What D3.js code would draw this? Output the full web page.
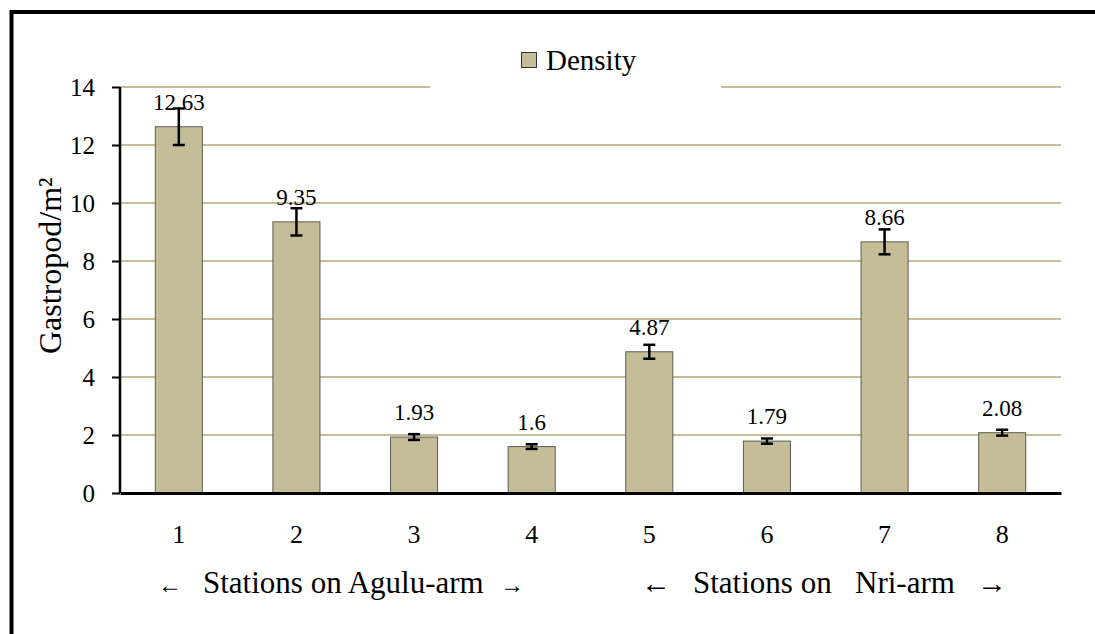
<!DOCTYPE html>
<html>
<head>
<meta charset="utf-8">
<script src="https://cdn.jsdelivr.net/npm/d3@7"></script>
<style>
  body { margin: 0; background: #fff; }
  svg { display: block; }
  svg text { font-family: "Liberation Serif", "Times New Roman", serif; fill: #000; }
</style>
</head>
<body>
<svg width="1095" height="634"></svg>
<script>
var stations = ['1', '2', '3', '4', '5', '6', '7', '8'];
var density = [12.63, 9.35, 1.93, 1.6, 4.87, 1.79, 8.66, 2.08];
var errors = [0.63, 0.47, 0.10, 0.08, 0.24, 0.09, 0.43, 0.10];
var yTicks = [0, 2, 4, 6, 8, 10, 12, 14];

var svg = d3.select('svg');
var serif = 'Liberation Serif';
var barColor = '#c4bd97';
// plot box (window.top is reserved, so no plain "top")
var plotLeft = 120, plotRight = 1061, plotTop = 87, plotBottom = 493;

// outer frame (runs off the right and bottom edge)
svg.append('rect')
  .attr('x', 11.5).attr('y', 12)
  .attr('width', 1200).attr('height', 800)
  .attr('fill', 'none').attr('stroke', '#000').attr('stroke-width', 4);

var x = d3.scaleBand().domain(stations).range([plotLeft, plotRight])
  .paddingInner(0.6).paddingOuter(0.3);
var y = d3.scaleLinear().domain([0, 14]).range([plotBottom, plotTop]);

// gridlines
svg.append('g').selectAll('line').data(yTicks.filter(function(d) { return d > 0; }))
  .enter().append('line')
  .attr('x1', plotLeft).attr('x2', plotRight)
  .attr('y1', function(d) { return y(d); })
  .attr('y2', function(d) { return y(d); })
  .attr('stroke', barColor).attr('stroke-width', 2);

// bars
svg.append('g').selectAll('rect').data(density).enter().append('rect')
  .attr('x', function(d, i) { return x(stations[i]); })
  .attr('y', function(d) { return y(d); })
  .attr('width', x.bandwidth())
  .attr('height', function(d) { return plotBottom - y(d); })
  .attr('fill', barColor)
  .attr('stroke', '#5e5c50').attr('stroke-width', 1);

// error bars
var eb = svg.append('g').selectAll('g').data(density).enter().append('g')
  .attr('stroke', '#000').attr('stroke-width', 2.5);
eb.append('line')
  .attr('x1', function(d, i) { return x(stations[i]) + x.bandwidth() / 2; })
  .attr('x2', function(d, i) { return x(stations[i]) + x.bandwidth() / 2; })
  .attr('y1', function(d, i) { return y(d + errors[i]); })
  .attr('y2', function(d, i) { return y(d - errors[i]); });
[1, -1].forEach(function(s) {
  eb.append('line')
    .attr('x1', function(d, i) { return x(stations[i]) + x.bandwidth() / 2 - 6; })
    .attr('x2', function(d, i) { return x(stations[i]) + x.bandwidth() / 2 + 6; })
    .attr('y1', function(d, i) { return y(d + s * errors[i]); })
    .attr('y2', function(d, i) { return y(d + s * errors[i]); });
});

// value labels
svg.append('g').selectAll('text').data(density).enter().append('text')
  .attr('x', function(d, i) { return x(stations[i]) + x.bandwidth() / 2; })
  .attr('y', function(d) { return y(d) - 17; })
  .attr('text-anchor', 'middle')
  .attr('font-family', serif)
  .attr('font-size', 23)
  .text(function(d) { return d; });

// axes
var yAxis = svg.append('g')
  .attr('transform', 'translate(' + plotLeft + ',0)')
  .call(d3.axisLeft(y).tickValues(yTicks).tickSize(8).tickPadding(17))
  .attr('font-family', serif);
yAxis.select('.domain').attr('stroke-width', 2.5).attr('d', 'M0,' + plotTop + 'V' + plotBottom);
yAxis.selectAll('.tick line').attr('stroke-width', 2);
yAxis.selectAll('.tick text').attr('font-size', 25);

var xAxis = svg.append('g')
  .attr('transform', 'translate(0,' + plotBottom + ')')
  .call(d3.axisBottom(x).tickSize(0).tickPadding(32))
  .attr('font-family', serif);
xAxis.select('.domain').attr('stroke-width', 3);
xAxis.selectAll('.tick text').attr('font-size', 26);

// y axis title
svg.append('text')
  .attr('transform', 'translate(61,354) rotate(-90)')
  .attr('font-size', 32)
  .text('Gastropod/m²');

// station group labels
svg.append('text').attr('x', 158).attr('y', 593).attr('font-size', 24).text('←');
svg.append('text').attr('x', 203).attr('y', 593).attr('font-size', 31).text('Stations on Agulu-arm');
svg.append('text').attr('x', 500).attr('y', 593).attr('font-size', 24).text('→');
svg.append('text').attr('x', 641).attr('y', 593).attr('font-size', 30).text('←');
svg.append('text').attr('x', 693).attr('y', 593).attr('font-size', 31).text('Stations on');
svg.append('text').attr('x', 855).attr('y', 593).attr('font-size', 31).text('Nri-arm');
svg.append('text').attr('x', 977).attr('y', 593).attr('font-size', 30).text('→');

// legend
var legend = svg.append('g');
legend.append('rect').attr('x', 430).attr('y', 40).attr('width', 291).attr('height', 50).attr('fill', '#fff');
legend.append('rect').attr('x', 521.5).attr('y', 52.5).attr('width', 15).attr('height', 15)
  .attr('fill', barColor).attr('stroke', '#333').attr('stroke-width', 1);
legend.append('text').attr('x', 546).attr('y', 70).attr('font-size', 29).text('Density');
</script>
</body>
</html>
